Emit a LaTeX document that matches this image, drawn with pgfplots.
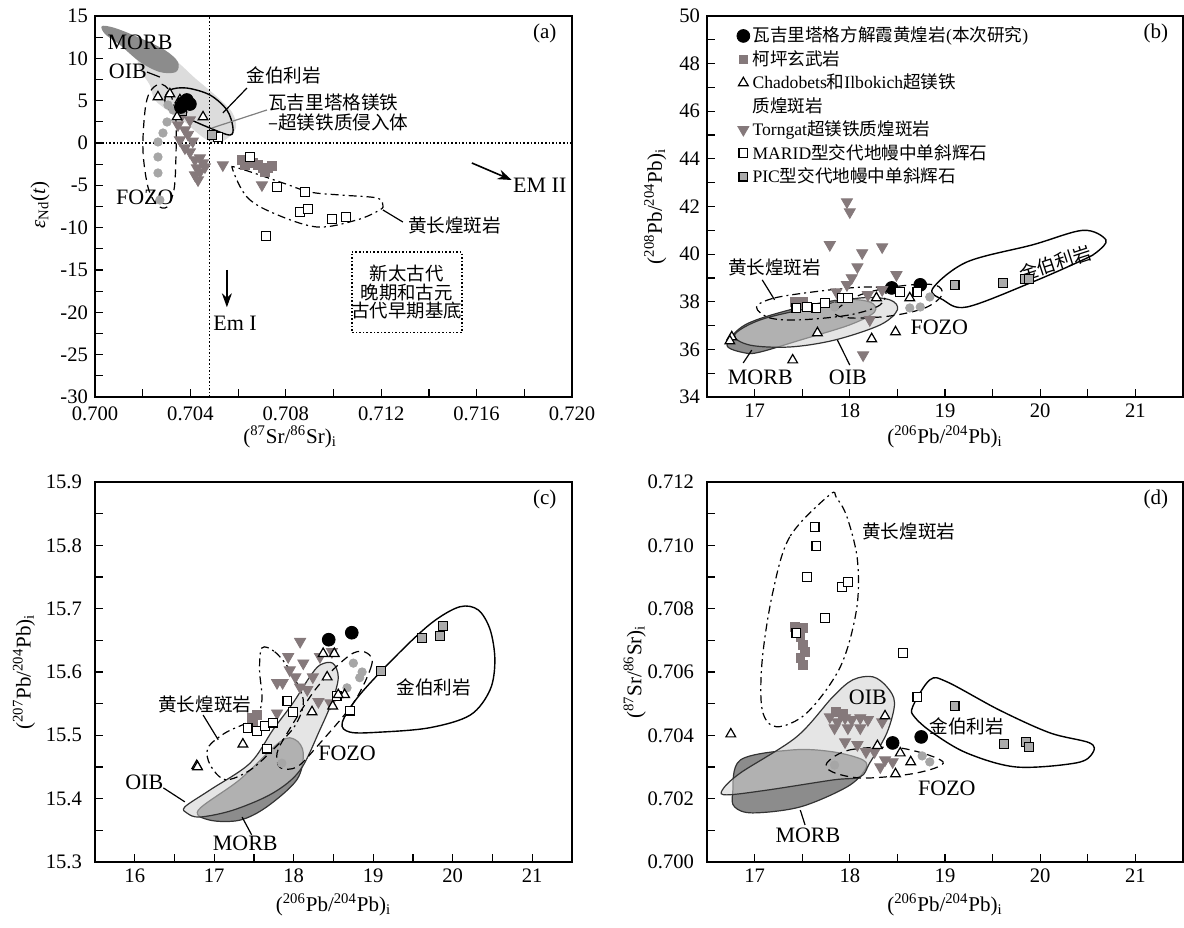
\documentclass[border=0pt]{standalone}
\usepackage{fontspec}
\setmainfont{Liberation Serif}
\newfontfamily\cjk{Noto Sans CJK SC}
\usepackage{pgfplots}
\pgfplotsset{compat=1.18}
\usetikzlibrary{arrows.meta}
\newcommand{\zh}[1]{{\cjk #1}}
\newcommand{\cjkfs}{\cjk\fontsize{9.3}{10}\selectfont}
\newcommand{\lbfs}{\fontsize{11}{12}\selectfont}
\definecolor{morb}{HTML}{8C8C8C}
\definecolor{oib}{HTML}{D0D0D0}
\definecolor{oiba}{HTML}{DCDCDC}
\definecolor{tg}{HTML}{85797B}
\definecolor{pic}{HTML}{ABABAB}
\definecolor{lgc}{HTML}{A6A6A6}
\pgfplotsset{
 panel/.style={scale only axis, clip=false, anchor=south west,
  axis line style={line width=0.8pt}, tick align=inside, xtick pos=bottom, ytick pos=left,
  major tick length=4pt, minor tick length=4pt, every tick/.style={black, line width=0.6pt},
  tick label style={font=\fontsize{10.3}{12}\selectfont}, label style={font=\fontsize{10.5}{12}\selectfont},
  /pgf/number format/assume math mode=true, scaled x ticks=false, scaled y ticks=false},
 field/.style={smooth cycle, tension=0.55, line width=0.6pt},
 pBlack/.style={only marks, mark=*, mark size=3.2pt, mark options={fill=black, draw=black}},
 pKP/.style={only marks, mark=square*, mark size=2.2pt, mark options={fill=tg, draw=tg}},
 pCH/.style={only marks, mark=triangle*, mark size=2.8pt, mark options={fill=white, draw=black, line width=0.6pt}},
 pTG/.style={only marks, mark=triangle*, mark size=3.2pt, mark options={fill=tg, draw=tg, rotate=180}},
 pMR/.style={only marks, mark=square*, mark size=2.2pt, mark options={fill=white, draw=black, line width=0.6pt}},
 pPIC/.style={only marks, mark=square*, mark size=2.2pt, mark options={fill=pic, draw=black, line width=0.6pt}},
 pLG/.style={only marks, mark=*, mark size=2.1pt, mark options={fill=lgc, draw=lgc}},
 dashdot/.style={dash pattern=on 4pt off 2pt on 1pt off 2pt, line width=0.6pt},
 dashfz/.style={dash pattern=on 4pt off 2.5pt, line width=0.6pt},
}
\begin{document}
\begin{tikzpicture}
\path[use as bounding box] (0,0) rectangle (592pt,463.5pt);
% ---------------- (a)
\begin{axis}[panel, at={(47.5pt,265pt)}, width=238.5pt, height=190.5pt,
 xmin=0.700, xmax=0.720, ymin=-30, ymax=15,
 xtick={0.700,0.704,0.708,0.712,0.716,0.720}, minor xtick={0.702,0.706,0.710,0.714,0.718},
 ytick={-30,-25,-20,-15,-10,-5,0,5,10,15}, minor ytick={-27.5,-22.5,-17.5,-12.5,-7.5,-2.5,2.5,7.5,12.5},
 xticklabel style={yshift=-1.5pt,/pgf/number format/.cd,fixed,fixed zerofill,precision=3},
 xlabel={(\textsuperscript{87}Sr/\textsuperscript{86}Sr)\textsubscript{i}},
 ylabel={{\itshape ε}\textsubscript{Nd}(\textit{t})},
 xlabel style={at={(axis description cs:0.409,-0.105)}, anchor=center},
 ylabel style={at={(axis description cs:-0.1153,0.504)}, anchor=center}]
\addplot[field, fill=oiba, draw=none] coordinates {(0.70230,11.57)(0.70335,9.80)(0.70419,7.67)(0.70503,5.67)(0.70574,3.66)(0.70591,1.77)(0.70545,0.35)(0.70490,0.12)(0.70440,0.94)(0.70377,2.48)(0.70314,3.66)(0.70251,5.08)(0.70230,6.85)(0.70189,8.62)(0.70180,10.39)};
\addplot[field, fill=morb, draw=none] coordinates {(0.70029,13.81)(0.70084,13.58)(0.70189,12.40)(0.70293,10.98)(0.70348,9.56)(0.70339,8.38)(0.70272,8.38)(0.70189,9.56)(0.70105,11.57)(0.70042,12.87)};
\addplot[densely dotted, line width=0.8pt] coordinates {(0.700,0)(0.720,0)};
\addplot[densely dotted, line width=0.8pt] coordinates {(0.7048,-30)(0.7048,15)};
\addplot[field, draw=black, line width=0.7pt] coordinates {(0.70314,6.26)(0.70385,6.49)(0.70482,5.67)(0.70553,3.90)(0.70578,1.89)(0.70566,0.94)(0.70482,1.77)(0.70385,2.95)(0.70314,3.90)(0.70293,5.08)};
\addplot[field, dashfz] coordinates {(0.70272,6.97)(0.70314,6.02)(0.70339,2.72)(0.70339,-2.0)(0.70331,-5.55)(0.70302,-7.56)(0.70260,-7.32)(0.70222,-5.19)(0.70201,-0.83)(0.70210,3.90)(0.70230,6.02)};
\addplot[field, dashdot] coordinates {(0.70578,-3.19)(0.70637,-6.38)(0.70746,-8.26)(0.70930,-9.92)(0.71098,-9.09)(0.71194,-7.91)(0.71207,-7.32)(0.71182,-6.49)(0.71027,-6.14)(0.70901,-5.79)(0.70788,-4.72)(0.70599,-2.95)};
\addplot[densely dotted, line width=0.8pt] coordinates {(0.71077,-12.87)(0.71538,-12.87)(0.71538,-22.4)(0.71077,-22.4)(0.71077,-12.87)};
\addplot[pLG] coordinates {(0.70264,0.12)(0.70285,1.18)(0.70302,2.48)(0.70264,-1.65)(0.70264,-3.54)(0.70272,-6.73)(0.70327,3.90)(0.70306,4.49)};
\addplot[pTG] coordinates {(0.70377,-0.59)(0.70398,-1.06)(0.70419,-2.0)(0.70440,-1.77)(0.70427,-2.95)(0.70453,-2.36)(0.70419,-3.78)(0.70440,-3.42)(0.70432,-4.37)(0.70461,-2.83)(0.70356,0.35)(0.70377,1.53)(0.70348,2.13)(0.70398,2.72)(0.70536,-2.60)(0.70700,-4.96)(0.70365,3.3)(0.70390,1.0)(0.70410,0.2)};
\addplot[pKP] coordinates {(0.70616,-2.0)(0.70641,-2.24)(0.70662,-2.36)(0.70683,-2.60)(0.70704,-2.95)(0.70725,-2.95)(0.70742,-2.72)(0.70628,-2.60)(0.70712,-3.42)};
\addplot[pMR] coordinates {(0.70649,-1.65)(0.70763,-5.19)(0.70880,-5.79)(0.70859,-8.15)(0.70892,-7.79)(0.70993,-8.97)(0.71052,-8.74)(0.70717,-10.98)(0.70515,0.71)};
\addplot[pPIC] coordinates {(0.70490,0.94)(0.70365,3.78)};
\addplot[pCH] coordinates {(0.70264,5.43)(0.70314,5.79)(0.70344,3.07)(0.70453,3.07)(0.70356,5.08)};
\addplot[pBlack] coordinates {(0.70369,4.72)(0.70385,5.08)(0.70360,4.25)(0.70398,4.60)};
\addplot[-{Stealth[length=7pt,width=5pt]}, line width=0.8pt] coordinates {(0.71580,-2.36)(0.71747,-4.37)};
\addplot[-{Stealth[length=7pt,width=5pt]}, line width=0.8pt] coordinates {(0.70553,-15.0)(0.70553,-19.4)};
\draw[line width=0.6pt] (axis cs:0.70637,6.49) -- (axis cs:0.70536,3.54);
\draw[line width=0.6pt, gray] (axis cs:0.70721,3.90) -- (axis cs:0.70490,1.77);
\draw[line width=0.6pt] (axis cs:0.70218,8.38) -- (axis cs:0.70272,7.79);
\draw[line width=0.6pt] (axis cs:0.71207,-7.91) -- (axis cs:0.71291,-9.33);
\node[font=\lbfs] at (axis cs:0.70189,11.92) {MORB};
\node[font=\lbfs] at (axis cs:0.70138,8.50) {OIB};
\node[font=\lbfs] at (axis cs:0.70209,-6.38) {FOZO};
\node[font=\lbfs] at (axis cs:0.71865,-4.96) {EM II};
\node[font=\lbfs] at (axis cs:0.70587,-21.25) {Em I};
\node[font=\cjkfs] at (axis cs:0.70792,8.03) {金伯利岩};
\node[font=\cjkfs, align=left, anchor=west, inner sep=0pt] at (axis cs:0.70725,3.66) {瓦吉里塔格镁铁\\–超镁铁质侵入体};
\node[font=\cjkfs] at (axis cs:0.71508,-9.68) {黄长煌斑岩};
\node[font=\cjk\fontsize{9.2}{9.2}\selectfont, align=center] at (axis cs:0.71307,-17.6) {新太古代\\晚期和古元\\古代早期基底};
\node[font=\fontsize{10.5}{12}\selectfont] at (rel axis cs:0.943,0.955) {(a)};
\end{axis}
% ---------------- (b)
\begin{axis}[panel, at={(353.5pt,265pt)}, width=238pt, height=190.5pt,
 xmin=16.5, xmax=21.5, ymin=34, ymax=50,
 xtick={17,18,19,20,21}, minor xtick={17.5,18.5,19.5,20.5},
 ytick={34,36,...,50}, minor ytick={35,37,...,49},
 xlabel={(\textsuperscript{206}Pb/\textsuperscript{204}Pb)\textsubscript{i}},
 ylabel={(\textsuperscript{208}Pb/\textsuperscript{204}Pb)\textsubscript{i}},
 xlabel style={at={(axis description cs:0.5,-0.105)}, anchor=center},
 ylabel style={at={(axis description cs:-0.109,0.5)}, anchor=center},
 legend style={at={(rel axis cs:0.045,0.99)}, anchor=north west, draw=none, fill=none,
   font=\fontsize{8.8}{9.2}\selectfont, row sep=0pt, nodes={inner sep=1.4pt}},
 legend cell align=left,
 legend image code/.code={\draw[mark repeat=2,mark phase=2,#1] plot coordinates {(0cm,0cm)(0.15cm,0cm)(0.3cm,0cm)};}]
\addplot[field, fill=morb, draw=black!80, forget plot] coordinates {(16.71,36.18)(16.90,37.03)(17.37,37.66)(17.90,38.08)(18.21,37.99)(18.26,37.57)(18.00,37.03)(17.48,36.39)(17.06,35.89)(16.90,35.85)};
\addplot[field, fill=oib, fill opacity=0.55, draw=black!80, forget plot] coordinates {(16.79,36.61)(17.06,37.24)(17.58,37.74)(18.11,38.16)(18.42,38.08)(18.50,37.66)(18.32,37.03)(17.84,36.39)(17.37,36.10)(16.95,36.18)};
\addplot[field, dashdot, forget plot] coordinates {(17.02,37.78)(17.21,38.16)(17.69,38.45)(18.16,38.62)(18.37,38.50)(18.32,37.87)(18.00,37.45)(17.48,37.24)(17.16,37.32)};
\addplot[field, dashfz, forget plot] coordinates {(17.84,37.57)(18.11,38.29)(18.53,38.66)(18.89,38.71)(18.97,38.29)(18.79,37.74)(18.42,37.40)(18.00,37.32)};
\addplot[field, draw=black, line width=0.7pt, forget plot] coordinates {(18.87,38.55)(19.23,39.67)(19.92,40.39)(20.45,41.00)(20.69,40.60)(20.60,40.10)(20.45,39.76)(19.92,38.83)(19.23,37.78)(18.98,38.08)};
\addplot[pLG, forget plot] coordinates {(17.84,37.78)(18.63,37.74)(18.74,37.78)(18.84,38.20)};
\addplot[pBlack] coordinates {(18.44,38.58)(18.74,38.71)};
\addlegendentry{\zh{瓦吉里塔格方解霞黄煌岩}(\zh{本次研究})}
\addplot[pKP] coordinates {(17.42,37.99)(17.51,37.99)(17.47,37.95)};
\addlegendentry{\zh{柯坪玄武岩}}
\addplot[pCH] coordinates {(16.76,36.52)(16.74,36.35)(17.40,35.55)(17.66,36.69)(18.23,36.44)(18.48,36.73)(18.28,38.16)(18.63,38.16)};
\addlegendentry{Chadobets\zh{和}Ilbokich\zh{超镁铁}}
\addlegendimage{empty legend}
\addlegendentry{\zh{质煌斑岩}}
\addplot[pTG] coordinates {(17.97,42.19)(18.00,41.77)(17.79,40.39)(18.13,40.05)(18.34,40.30)(18.08,39.46)(18.02,39.0)(17.97,38.71)(18.49,39.13)(17.86,38.41)(18.19,38.29)(18.34,38.50)(18.21,37.24)(18.14,35.76)};
\addlegendentry{Torngat\zh{超镁铁质煌斑岩}}
\addplot[pMR] coordinates {(17.44,37.74)(17.55,37.78)(17.65,37.74)(17.74,37.95)(17.92,38.16)(17.98,38.16)(18.53,38.41)(18.71,38.41)};
\addlegendentry{MARID\zh{型交代地幔中单斜辉石}}
\addplot[pPIC] coordinates {(19.10,38.71)(19.61,38.79)(19.84,38.96)(19.88,38.96)};
\addlegendentry{PIC\zh{型交代地幔中单斜辉石}}
\draw[line width=0.6pt] (axis cs:17.08,38.92) -- (axis cs:17.21,38.08);
\draw[line width=0.6pt] (axis cs:16.88,35.43) -- (axis cs:16.97,35.97);
\draw[line width=0.6pt] (axis cs:18.0,35.34) -- (axis cs:17.87,36.39);
\node[font=\cjkfs] at (axis cs:17.21,39.46) {黄长煌斑岩};
\node[font=\cjkfs, rotate=18] at (axis cs:20.16,39.62) {金伯利岩};
\node[font=\lbfs] at (axis cs:17.06,34.84) {MORB};
\node[font=\lbfs] at (axis cs:17.98,34.84) {OIB};
\node[font=\lbfs] at (axis cs:18.94,36.94) {FOZO};
\node[font=\fontsize{10.5}{12}\selectfont] at (rel axis cs:0.943,0.955) {(b)};
\end{axis}
% ---------------- (c)
\begin{axis}[panel, at={(47.5pt,32.5pt)}, width=238.5pt, height=190pt,
 xmin=15.5, xmax=21.5, ymin=15.3, ymax=15.9,
 xtick={16,17,18,19,20,21}, minor xtick={16.5,17.5,18.5,19.5,20.5},
 ytick={15.3,15.4,15.5,15.6,15.7,15.8,15.9}, minor ytick={15.35,15.45,15.55,15.65,15.75,15.85},
 yticklabel style={xshift=-3pt,/pgf/number format/.cd,fixed,fixed zerofill,precision=1},
 xlabel={(\textsuperscript{206}Pb/\textsuperscript{204}Pb)\textsubscript{i}},
 ylabel={(\textsuperscript{207}Pb/\textsuperscript{204}Pb)\textsubscript{i}},
 xlabel style={at={(axis description cs:0.5,-0.113)}, anchor=center},
 ylabel style={at={(axis description cs:-0.149,0.5)}, anchor=center}]
\addplot[field, fill=morb, draw=black!80] coordinates {(16.80,15.382)(17.32,15.430)(17.83,15.490)(18.02,15.493)(18.12,15.472)(18.04,15.430)(17.66,15.387)(17.32,15.366)(16.95,15.366)};
\addplot[field, fill=oib, fill opacity=0.55, draw=black!80] coordinates {(16.63,15.387)(16.95,15.414)(17.45,15.456)(17.74,15.509)(17.99,15.551)(18.20,15.592)(18.33,15.611)(18.49,15.614)(18.56,15.592)(18.49,15.556)(18.33,15.509)(18.08,15.445)(17.74,15.409)(17.24,15.382)(16.82,15.371)(16.66,15.377)};
\addplot[field, dashdot] coordinates {(17.60,15.638)(17.76,15.632)(17.95,15.603)(18.12,15.556)(18.02,15.516)(17.76,15.480)(17.45,15.445)(17.14,15.430)(16.95,15.453)(16.92,15.480)(17.14,15.504)(17.51,15.527)(17.60,15.556)(17.57,15.603)};
\addplot[field, dashfz] coordinates {(18.92,15.630)(18.98,15.611)(18.75,15.551)(18.29,15.482)(18.04,15.450)(17.83,15.449)(17.79,15.472)(17.92,15.504)(18.24,15.567)(18.49,15.603)(18.75,15.630)};
\addplot[field, draw=black, line width=0.7pt] coordinates {(18.61,15.520)(18.83,15.564)(19.34,15.632)(19.75,15.679)(20.09,15.703)(20.32,15.698)(20.47,15.667)(20.53,15.619)(20.47,15.572)(20.22,15.532)(19.71,15.512)(19.08,15.505)(18.71,15.505)};
\addplot[pLG] coordinates {(18.75,15.614)(18.86,15.600)(18.83,15.591)(18.67,15.575)(17.85,15.456)};
\addplot[pTG] coordinates {(18.08,15.648)(17.93,15.624)(18.12,15.614)(17.95,15.603)(18.24,15.592)(17.86,15.583)(17.79,15.583)(18.08,15.576)(18.17,15.572)(18.31,15.553)(17.79,15.535)(18.46,15.551)(18.33,15.624)(18.48,15.632)(18.02,15.592)};
\addplot[pKP] coordinates {(17.47,15.527)(17.54,15.532)(17.49,15.516)};
\addplot[pMR] coordinates {(17.92,15.554)(17.99,15.537)(17.42,15.512)(17.54,15.507)(17.64,15.515)(17.74,15.520)(17.66,15.479)(18.54,15.562)(18.71,15.539)};
\addplot[pPIC] coordinates {(19.61,15.654)(19.84,15.657)(19.88,15.673)(19.10,15.602)};
\addplot[pCH] coordinates {(18.37,15.629)(18.51,15.629)(18.42,15.592)(18.64,15.564)(18.56,15.564)(18.49,15.546)(18.23,15.537)(17.36,15.486)(16.78,15.452)(16.79,15.450)};
\addplot[pBlack] coordinates {(18.44,15.651)(18.73,15.662)};
\draw[line width=0.6pt] (axis cs:16.86,15.532) -- (axis cs:17.05,15.493);
\draw[line width=0.6pt] (axis cs:16.36,15.417) -- (axis cs:16.63,15.395);
\draw[line width=0.6pt] (axis cs:17.35,15.371) -- (axis cs:17.47,15.343);
\node[font=\cjkfs] at (axis cs:16.88,15.548) {黄长煌斑岩};
\node[font=\cjkfs] at (axis cs:19.76,15.575) {金伯利岩};
\node[font=\lbfs] at (axis cs:18.67,15.472) {FOZO};
\node[font=\lbfs] at (axis cs:16.12,15.426) {OIB};
\node[font=\lbfs] at (axis cs:17.39,15.330) {MORB};
\node[font=\fontsize{10.5}{12}\selectfont] at (rel axis cs:0.943,0.955) {(c)};
\end{axis}
% ---------------- (d)
\begin{axis}[panel, at={(353.5pt,32.5pt)}, width=238pt, height=190pt,
 xmin=16.5, xmax=21.5, ymin=0.700, ymax=0.712,
 xtick={17,18,19,20,21}, minor xtick={17.5,18.5,19.5,20.5},
 ytick={0.700,0.702,0.704,0.706,0.708,0.710,0.712}, minor ytick={0.701,0.703,0.705,0.707,0.709,0.711},
 yticklabel style={xshift=-3pt,/pgf/number format/.cd,fixed,fixed zerofill,precision=3},
 xlabel={(\textsuperscript{206}Pb/\textsuperscript{204}Pb)\textsubscript{i}},
 ylabel={(\textsuperscript{87}Sr/\textsuperscript{86}Sr)\textsubscript{i}},
 xlabel style={at={(axis description cs:0.5,-0.113)}, anchor=center},
 ylabel style={at={(axis description cs:-0.152,0.5)}, anchor=center}]
\addplot[field, fill=morb, draw=black!80] coordinates {(16.85,0.70322)(17.40,0.70354)(17.82,0.70348)(18.14,0.70322)(18.16,0.70291)(17.97,0.70237)(17.48,0.70174)(16.98,0.70155)(16.79,0.70174)(16.77,0.70218)};
\addplot[field, fill=oib, fill opacity=0.55, draw=black!80] coordinates {(18.24,0.70585)(18.39,0.70553)(18.47,0.70502)(18.39,0.70408)(18.21,0.70313)(18.11,0.70269)(17.82,0.70259)(17.13,0.70227)(16.71,0.70212)(16.66,0.70227)(16.85,0.70281)(17.44,0.70395)(17.82,0.70521)(18.03,0.70575)};
\addplot[field, dashdot] coordinates {(17.79,0.71160)(17.37,0.71027)(17.19,0.70850)(17.08,0.70638)(17.08,0.70480)(17.23,0.70427)(17.55,0.70471)(17.90,0.70616)(18.07,0.70796)(18.08,0.70954)(17.97,0.71090)(17.86,0.71150)};
\addplot[field, dashfz] coordinates {(17.76,0.70313)(18.00,0.70354)(18.53,0.70360)(18.98,0.70316)(18.70,0.70281)(18.14,0.70265)(17.82,0.70284)};
\addplot[field, draw=black, line width=0.7pt] coordinates {(18.66,0.70490)(18.84,0.70575)(19.02,0.70569)(19.57,0.70480)(20.10,0.70408)(20.52,0.70376)(20.55,0.70344)(20.38,0.70313)(19.75,0.70300)(19.23,0.70344)(18.87,0.70408)(18.68,0.70458)};
\addplot[pLG] coordinates {(17.84,0.70306)(18.76,0.70335)(18.84,0.70316)};
\addplot[pTG] coordinates {(17.79,0.70458)(17.87,0.70442)(17.95,0.70455)(18.02,0.70449)(18.11,0.70455)(18.19,0.70449)(17.84,0.70423)(17.98,0.70423)(18.11,0.70423)(17.95,0.70379)(18.08,0.70370)(18.17,0.70348)(18.26,0.70348)(18.37,0.70322)(18.45,0.70316)(18.32,0.70300)(18.34,0.70442)};
\addplot[pKP] coordinates {(17.42,0.70743)(17.51,0.70739)(17.48,0.70711)(17.51,0.70686)(17.53,0.70664)(17.48,0.70645)(17.51,0.70622)(17.85,0.70474)(17.93,0.70468)};
\addplot[pMR] coordinates {(17.63,0.71058)(17.65,0.70998)(17.55,0.70900)(17.92,0.70869)(17.98,0.70885)(17.74,0.70771)(17.44,0.70724)(18.56,0.70660)(18.71,0.70521)};
\addplot[pPIC] coordinates {(19.10,0.70493)(19.62,0.70373)(19.85,0.70379)(19.88,0.70363)};
\addplot[pCH] coordinates {(16.75,0.70404)(18.37,0.70461)(18.29,0.70367)(18.53,0.70344)(18.64,0.70316)(18.48,0.70278)};
\addplot[pBlack] coordinates {(18.45,0.70376)(18.75,0.70395)};
\draw[line width=0.6pt] (axis cs:17.48,0.70164) -- (axis cs:17.53,0.70117);
\node[font=\cjkfs] at (axis cs:18.62,0.71043) {黄长煌斑岩};
\node[font=\cjkfs] at (axis cs:19.23,0.70427) {金伯利岩};
\node[font=\lbfs] at (axis cs:18.19,0.70521) {OIB};
\node[font=\lbfs] at (axis cs:19.02,0.70234) {FOZO};
\node[font=\lbfs] at (axis cs:17.56,0.70085) {MORB};
\node[font=\fontsize{10.5}{12}\selectfont] at (rel axis cs:0.943,0.955) {(d)};
\end{axis}
\end{tikzpicture}
\end{document}
